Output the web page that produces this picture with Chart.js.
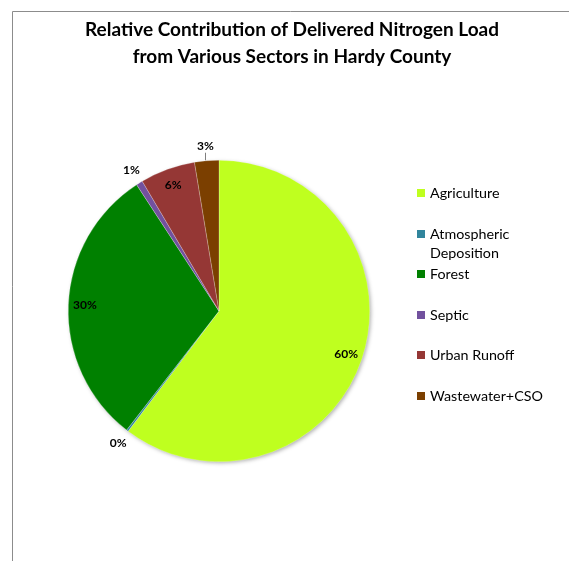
<!DOCTYPE html>
<html>
<head>
<meta charset="utf-8">
<script src="https://cdn.jsdelivr.net/npm/chart.js@4.4.1/dist/chart.umd.min.js"></script>
<style>
  html, body { margin: 0; padding: 0; background: #fff; }
  #wrap { width: 569px; height: 561px; }
</style>
</head>
<body>
<div id="wrap"><canvas id="pie-chart" width="569" height="561"></canvas></div>
<script>
"use strict";

const titleLines = ["Relative Contribution of Delivered Nitrogen Load", "from Various Sectors in Hardy County"];
const sectors = ["Agriculture", "Atmospheric Deposition", "Forest", "Septic", "Urban Runoff", "Wastewater+CSO"];
const legendLabels = [["Agriculture"], ["Atmospheric", "Deposition"], ["Forest"], ["Septic"], ["Urban Runoff"], ["Wastewater+CSO"]];
const shares = [60.3, 0.2, 30.3, 0.7, 5.9, 2.6];
const percentLabels = ["60%", "0%", "30%", "1%", "6%", "3%"];
const sliceColors = ["#BFFF1F", "#31859C", "#008000", "#72519E", "#953735", "#7B3F00"];
const labelPlacement = ["in", "out", "in", "out", "in", "leader"];

const FONT = "Lato, 'Open Sans', sans-serif";

// frame, title, legend and slice labels drawn on the canvas
const decorations = {
  id: "decorations",
  beforeDraw(chart) {
    const ctx = chart.ctx;
    ctx.save();
    ctx.strokeStyle = "#8c8c8c";
    ctx.lineWidth = 1;
    ctx.beginPath();
    ctx.moveTo(12.5, 561);
    ctx.lineTo(12.5, 11.5);
    ctx.lineTo(569, 11.5);
    ctx.stroke();
    ctx.restore();
  },
  beforeDatasetsDraw(chart) {
    const ctx = chart.ctx;
    ctx.save();
    ctx.shadowColor = "rgba(0,0,0,0.35)";
    ctx.shadowBlur = 4;
    ctx.shadowOffsetX = 1.5;
    ctx.shadowOffsetY = 1.5;
    const arc = chart.getDatasetMeta(0).data[0];
    ctx.fillStyle = "#fff";
    ctx.beginPath();
    ctx.arc(arc.x, arc.y, arc.outerRadius - 0.5, 0, Math.PI * 2);
    ctx.fill();
    ctx.restore();
  },
  afterDraw(chart) {
    const ctx = chart.ctx;
    ctx.save();
    ctx.fillStyle = "#000";
    ctx.textAlign = "center";
    ctx.textBaseline = "middle";
    ctx.font = "bold 19px " + FONT;
    titleLines.forEach((line, i) => ctx.fillText(line, 292, 30 + i * 27));

    // legend
    const rowY = [193, 234, 274, 315, 355, 396];
    ctx.textAlign = "left";
    ctx.font = "14.3px " + FONT;
    legendLabels.forEach((lines, i) => {
      ctx.fillStyle = sliceColors[i];
      ctx.fillRect(417, rowY[i] - 4, 8, 8);
      ctx.fillStyle = "#000";
      lines.forEach((t, j) => ctx.fillText(t, 430, rowY[i] + j * 19));
    });

    // slice labels
    ctx.textAlign = "center";
    ctx.font = "bold 12px " + FONT;
    const meta = chart.getDatasetMeta(0);
    meta.data.forEach((arc, i) => {
      const mid = (arc.startAngle + arc.endAngle) / 2;
      const r = arc.outerRadius;
      const f = labelPlacement[i] === "in" ? 0.89 : 1.1;
      const x = arc.x + Math.cos(mid) * r * f;
      const y = arc.y + Math.sin(mid) * r * f;
      if (labelPlacement[i] === "leader") {
        ctx.strokeStyle = "#7f7f7f";
        ctx.lineWidth = 1;
        ctx.beginPath();
        ctx.moveTo(Math.round(x) + 0.5, y + 7);
        ctx.lineTo(Math.round(x) + 0.5, arc.y - r);
        ctx.stroke();
      }
      ctx.fillStyle = "#000";
      ctx.fillText(percentLabels[i], x, y);
    });
    ctx.restore();
  }
};

new Chart(document.getElementById("pie-chart"), {
  type: "pie",
  data: {
    labels: sectors,
    datasets: [
      {
        data: shares,
        backgroundColor: sliceColors,
        borderColor: "rgba(255,255,255,0.45)",
        borderWidth: 0.5,
      },
    ],
  },
  options: {
    responsive: false,
    animation: false,
    layout: {
      padding: { left: 68, right: 199, top: 160, bottom: 99 },
    },
    plugins: {
      legend: { display: false },
      title: { display: false },
      tooltip: { enabled: false },
    },
  },
  plugins: [decorations],
});
</script>
</body>
</html>
